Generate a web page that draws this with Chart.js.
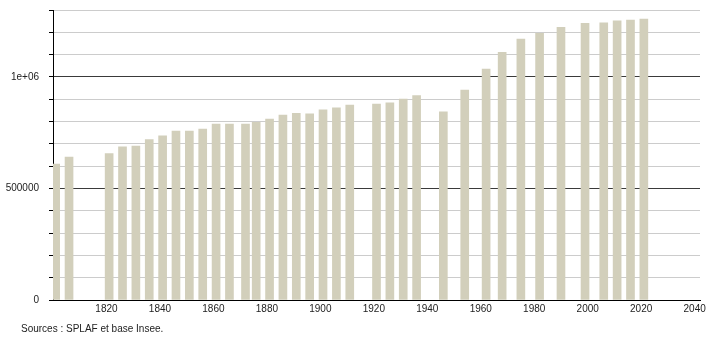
<!DOCTYPE html>
<html><head><meta charset="utf-8">
<script src="https://cdn.jsdelivr.net/npm/chart.js@4"></script>
<style>
body{margin:0;background:#fff}
#wrap{position:relative;width:710px;height:340px}
#src{position:absolute;left:21px;top:323px;font:10px "Liberation Sans",Arial,sans-serif;color:#222;white-space:nowrap}
</style>
</head><body>
<div id="wrap"><canvas id="c" width="710" height="340"></canvas><div id="src">Sources : SPLAF et base Insee.</div></div>
<script>
const years = [1801,1806,1821,1826,1831,1836,1841,1846,1851,1856,1861,1866,1872,1876,1881,1886,1891,1896,1901,1906,1911,1921,1926,1931,1936,1946,1954,1962,1968,1975,1982,1990,1999,2006,2011,2016,2021];
const population = [609600,641000,656000,687000,690000,719000,736000,757000,757000,766000,789000,789000,789000,796000,811000,829000,837000,834000,852000,862000,874000,878000,884000,901000,916000,844000,941000,1035000,1110000,1170000,1195000,1222000,1240000,1243000,1251000,1255000,1259000];
const xTickValues = [1820,1840,1860,1880,1900,1920,1940,1960,1980,2000,2020,2040];
const yTickValues = [0,100000,200000,300000,400000,500000,600000,700000,800000,900000,1000000,1100000,1200000,1300000];
const yTickLabels = ['0','','','','','500000','','','','','1e+06','','',''];

const FONT = {family:'"Liberation Sans", Arial, sans-serif', size:10};

new Chart(document.getElementById('c'), {
  type: 'bar',
  data: {
    datasets: [{
      data: years.map((y, i) => ({x: y, y: population[i]})),
      backgroundColor: '#d2cfbb',
      borderWidth: 0,
      barThickness: 8
    }]
  },
  options: {
    responsive: false,
    animation: false,
    layout: {padding: {top: 10, right: 10, left: 0, bottom: 0}},
    plugins: {legend: {display: false}, tooltip: {enabled: false}},
    scales: {
      x: {
        type: 'linear', min: 1800, max: 2042, offset: false,
        afterBuildTicks: s => { s.ticks = xTickValues.map(v => ({value: v})); },
        afterFit: s => { s.height = 40; s.paddingLeft = 0; s.paddingRight = 0; },
        grid: {display: false, drawTicks: false},
        border: {color: '#000', width: 1},
        ticks: {padding: 3, color: '#222', font: FONT, maxRotation: 0, autoSkip: false,
                callback: v => String(v)}
      },
      y: {
        min: 0, max: 1300000,
        afterBuildTicks: s => { s.ticks = yTickValues.map(v => ({value: v})); },
        afterFit: s => { s.width = 53; s.paddingTop = 0; s.paddingBottom = 0; },
        grid: {
          color: c => (c.tick && c.tick.value % 500000 === 0) ? '#3a3a3a' : '#cccccc',
          tickColor: '#000', tickLength: 4
        },
        border: {color: '#000', width: 1},
        ticks: {padding: 10, color: '#222', font: FONT, autoSkip: false,
                callback: v => yTickLabels[yTickValues.indexOf(v)]}
      }
    }
  }
});
</script>
</body></html>
